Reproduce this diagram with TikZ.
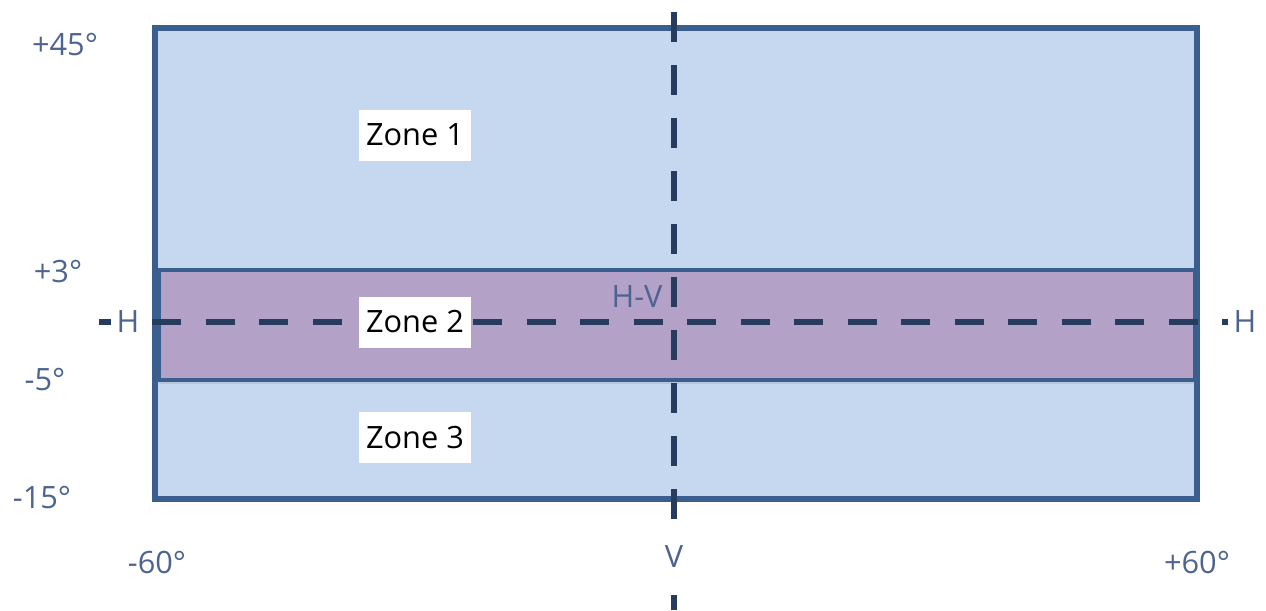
\documentclass[tikz,border=0pt]{standalone}
\usepackage{fontspec}
\setmainfont{Open Sans}
\usetikzlibrary{positioning,shadows}
\definecolor{zonefill}{HTML}{C5D8F0}
\definecolor{zoneedge}{HTML}{3A5E8E}
\definecolor{bandfill}{HTML}{B3A1C7}
\definecolor{axisline}{HTML}{253C5F}
\definecolor{labeltext}{HTML}{4D6491}
\begin{document}
\begin{tikzpicture}[x=0.02cm,y=-0.02cm,
    angle/.style={text=labeltext,font=\fontsize{17.5}{20}\selectfont},
    axisname/.style={angle,fill=white,inner sep=3.5pt},
    zonelabel/.style={fill=white,text=black,font=\fontsize{17.5}{20}\selectfont,minimum width=2.24cm,minimum height=1.02cm,inner sep=0pt},
    axis/.style={axisline,line width=3.6pt}]
 	\useasboundingbox (0,0) rectangle (1266,610);
 	% field of view
 	\draw[zoneedge,fill=zonefill,line width=3.4pt] (155,28) rectangle (1197,499);
 	\draw[zoneedge,fill=bandfill,line width=2.8pt,drop shadow={opacity=0.2,shadow xshift=0pt,shadow yshift=-2pt}] (159,270) rectangle (1195,380);
 	% axes
 	\coordinate (hleft) at (99,322);
 	\coordinate (hright) at (1262,322);
 	\coordinate (vtop) at (674,12);
 	\coordinate (vbot) at (674,610);
 	\draw[axis,dash pattern=on 0.58cm off 0.49cm] (hleft) -- (hright);
 	\draw[axis,dash pattern=on 0.6cm off 0.46cm] (vtop) -- (vbot);
 	\node[axisname] (H1) at (128,322) {H};
 	\node[axisname] (H2) at (1245,322) {H};
 	\node[axisname] (V) at (674,557) {V};
 	\node[angle] (HV) at (637,297) {H-V};
 	% zones
 	\node[zonelabel] (Z1) at (415,135) {Zone 1};
 	\node[zonelabel] (Z2) at (415,322) {Zone 2};
 	\node[zonelabel] (Z3) at (415,437) {Zone 3};
 	% angles
 	\node[angle] (A45) at (65,45) {+45°};
 	\node[angle] (A3) at (58,272) {+3°};
 	\node[angle] (Am5) at (45,380) {-5°};
 	\node[angle] (Am15) at (42,497) {-15°};
 	\node[angle] (Am60) at (157,562) {-60°};
 	\node[angle] (A60) at (1197,562) {+60°};
\end{tikzpicture}
\end{document}
